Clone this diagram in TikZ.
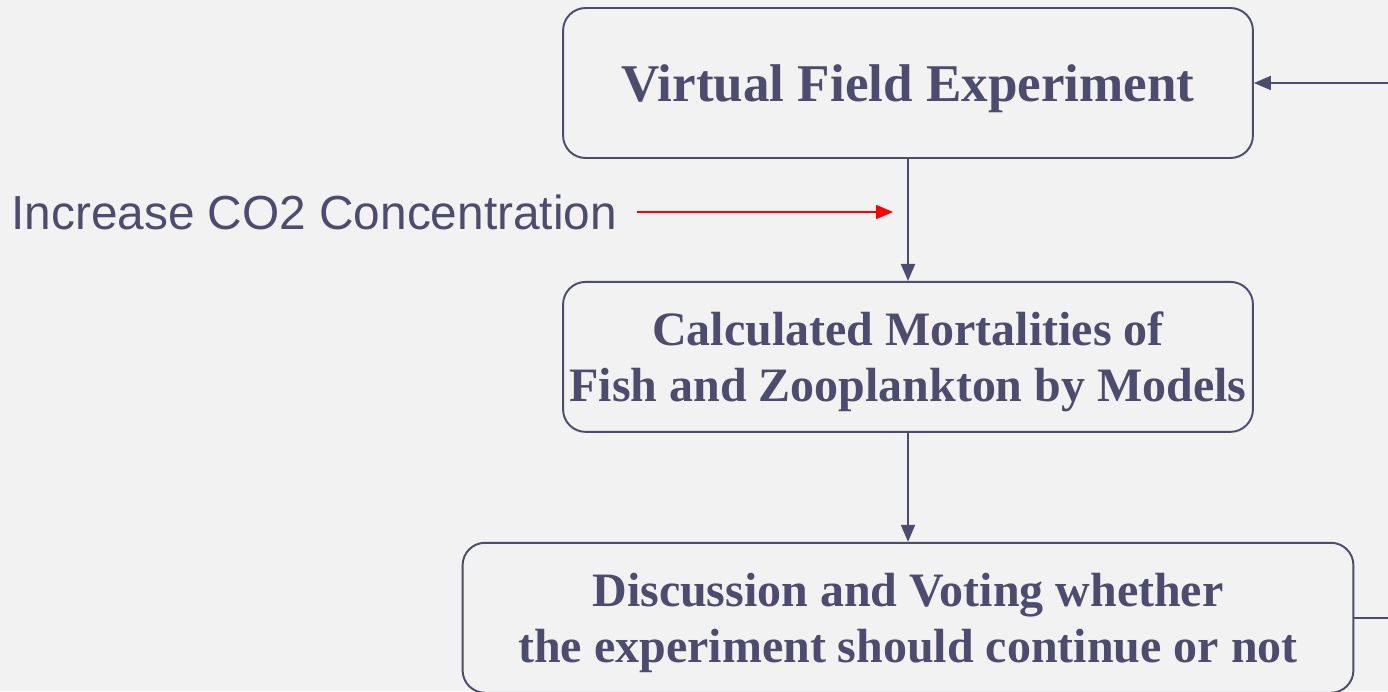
\documentclass[tikz,border=0pt]{standalone}
\usepackage{fontspec}
\setmainfont{Liberation Serif}
\setsansfont{Liberation Sans}
\usetikzlibrary{positioning, arrows.meta}
\definecolor{slate}{RGB}{76,76,110}
\definecolor{paper}{RGB}{242,242,242}
\tikzset{%
  stagebox/.style={draw=slate, line width=1.1pt, rounded corners=0.45cm,
    text=slate, align=center, font=\bfseries\fontsize{27.3}{32}\selectfont,
    minimum width=13.8cm, minimum height=3cm, inner sep=0pt, text depth=0pt},
  flow/.style={draw=slate, line width=1.1pt, -{Triangle[length=0.34cm, width=0.28cm]}}
}

\begin{document}
\begin{tikzpicture}[x=0.02cm, y=-0.02cm, node distance=2.44cm]

\fill[paper] (0,0) rectangle (1388,691);
\clip (0,0) rectangle (1388,691);

\node[stagebox, font=\bfseries\fontsize{30.2}{34}\selectfont] (field) at (908,83) {Virtual Field Experiment};
\node[stagebox, below=of field] (mort) {Calculated Mortalities of\\Fish and Zooplankton by Models};
\node[stagebox, minimum width=17.82cm, below=2.18cm of mort] (vote) {Discussion and Voting whether\\the experiment should continue or not};

\node[anchor=west, inner sep=0pt, text=slate, font=\sffamily\fontsize{27.2}{32}\selectfont] (co2) at (11,212) {Increase CO2 Concentration};
\coordinate (co2end) at (893,212);

\draw[flow] (field) -- (mort);
\draw[flow] (mort) -- (vote);
\draw[flow, draw=red, line width=0.9pt] ([xshift=0.4cm]co2.east) -- (co2end);
\draw[flow] (vote.east) -- ++(2cm,0) |- (field.east);

\end{tikzpicture}
\end{document}
